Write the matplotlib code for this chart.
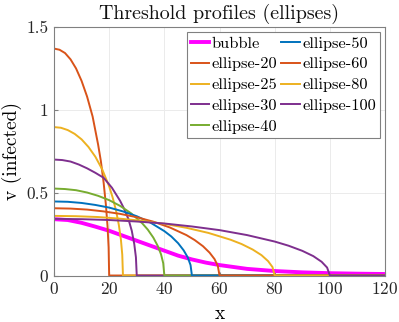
import matplotlib
matplotlib.use("Agg")
import matplotlib.pyplot as plt

plt.rcParams['font.family'] = 'cmr10'
plt.rcParams['mathtext.fontset'] = 'cm'
plt.rcParams['axes.formatter.use_mathtext'] = True

# values
bubble_x = [0, 5, 10, 15, 20, 25, 30, 35, 40, 45, 50, 55, 60, 70, 80, 90, 100, 110, 120]
bubble_y = [0.34, 0.335, 0.318, 0.295, 0.27, 0.24, 0.21, 0.18, 0.15, 0.12, 0.097,
            0.078, 0.063, 0.04, 0.027, 0.019, 0.014, 0.011, 0.009]

e20_x = [0, 2, 4, 6, 8, 10, 12, 14, 16, 17, 18, 18.8, 19.4, 19.8, 20, 120]
e20_y = [1.37, 1.363, 1.343, 1.305, 1.25, 1.175, 1.08, 0.96, 0.79, 0.69, 0.56,
         0.43, 0.30, 0.17, 0, 0]

e25_x = [0, 2.5, 5, 7.5, 10, 12.5, 15, 17.5, 20, 21.25, 22.5, 23.5, 24.25, 24.75, 25, 120]
e25_y = [0.896, 0.892, 0.878, 0.855, 0.822, 0.776, 0.717, 0.64, 0.538, 0.472, 0.391,
         0.306, 0.218, 0.126, 0, 0]

e30_x = [0, 3, 6, 9, 12, 15, 18, 21, 24, 25.5, 27, 28.2, 29.1, 29.7, 30, 120]
e30_y = [0.70, 0.697, 0.688, 0.67, 0.647, 0.62, 0.59, 0.53, 0.45, 0.40, 0.34,
         0.27, 0.19, 0.11, 0, 0]

e40_x = [0, 4, 8, 12, 16, 20, 24, 28, 32, 34, 36, 37.6, 38.8, 39.6, 40, 120]
e40_y = [0.525, 0.522, 0.515, 0.501, 0.481, 0.455, 0.42, 0.375, 0.315, 0.277, 0.229,
         0.179, 0.128, 0.074, 0, 0]

e50_x = [0, 5, 10, 15, 20, 25, 30, 35, 40, 42.5, 45, 47, 48.5, 49.5, 50, 120]
e50_y = [0.447, 0.445, 0.438, 0.426, 0.41, 0.387, 0.358, 0.319, 0.268, 0.236, 0.195,
         0.152, 0.109, 0.063, 0, 0]

e60_x = [0, 6, 12, 18, 24, 30, 36, 42, 48, 51, 54, 56.4, 58.2, 59.4, 60, 120]
e60_y = [0.406, 0.404, 0.398, 0.387, 0.372, 0.352, 0.325, 0.29, 0.244, 0.214, 0.177,
         0.138, 0.099, 0.057, 0, 0]

e80_x = [0, 8, 16, 24, 32, 40, 48, 56, 64, 68, 72, 75.2, 77.6, 79.2, 80, 120]
e80_y = [0.36, 0.358, 0.353, 0.343, 0.33, 0.312, 0.288, 0.257, 0.216, 0.19, 0.157,
         0.123, 0.087, 0.051, 0, 0]

e100_x = [0, 10, 20, 30, 40, 50, 60, 70, 80, 85, 90, 94, 97, 99, 100, 120]
e100_y = [0.342, 0.34, 0.335, 0.326, 0.314, 0.296, 0.274, 0.244, 0.205, 0.18, 0.149,
          0.117, 0.083, 0.048, 0, 0]

ellipses = [
    ("ellipse-20", e20_x, e20_y, "#D95319"),
    ("ellipse-25", e25_x, e25_y, "#EDB120"),
    ("ellipse-30", e30_x, e30_y, "#7E2F8E"),
    ("ellipse-40", e40_x, e40_y, "#77AC30"),
    ("ellipse-50", e50_x, e50_y, "#0072BD"),
    ("ellipse-60", e60_x, e60_y, "#D95319"),
    ("ellipse-80", e80_x, e80_y, "#EDB120"),
    ("ellipse-100", e100_x, e100_y, "#7E2F8E"),
]

fig = plt.figure(figsize=(3.99, 3.22), dpi=100)
ax = fig.add_axes([0.1353, 0.1444, 0.8297, 0.7716])

ax.plot(bubble_x, bubble_y, color="#FF00FF", lw=2.8, label="bubble",
        solid_joinstyle="round")
for name, xs, ys, c in ellipses:
    ax.plot(xs, ys, color=c, lw=1.4, label=name, solid_joinstyle="round")

ax.set_xlim(0, 120)
ax.set_ylim(0, 1.5)
ax.set_xticks([0, 20, 40, 60, 80, 100, 120])
ax.set_yticks([0, 0.5, 1, 1.5])
ax.set_yticklabels(["0", "0.5", "1", "1.5"])
ax.grid(True, color="#ebebeb", lw=0.7)
ax.set_axisbelow(True)
for s in ax.spines.values():
    s.set_color("#808080")
    s.set_linewidth(0.8)
ax.tick_params(direction="in", length=3, color="#808080", labelsize=12.5,
               labelcolor="#262626", pad=4)

ax.set_title("Threshold profiles (ellipses)", fontsize=14.4, pad=6, color="#111111")
ax.set_xlabel("x", fontsize=14, labelpad=5.5)
ax.set_ylabel("v (infected)", fontsize=14, labelpad=3)

leg = ax.legend(ncol=2, loc="upper right", fontsize=11.8, handlelength=1.15,
                handletextpad=0.15, columnspacing=0.2, labelspacing=0.39,
                borderpad=0.25, borderaxespad=0.3, fancybox=False, framealpha=1)
leg.get_frame().set_edgecolor("#808080")
leg.get_frame().set_linewidth(0.8)

fig.savefig("out.png", dpi=100)
